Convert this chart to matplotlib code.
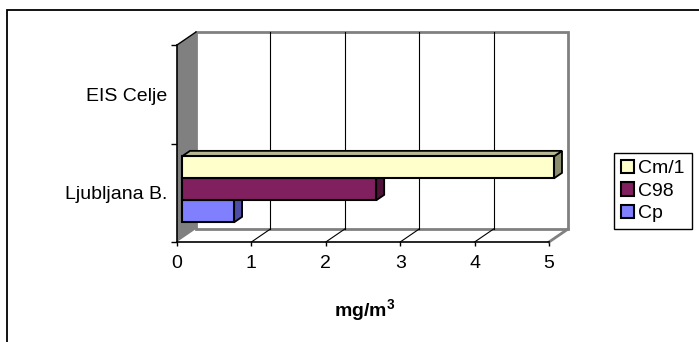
import matplotlib
matplotlib.use("Agg")
import matplotlib.pyplot as plt
from matplotlib.patches import Polygon, Rectangle, Patch
import numpy as np

plt.rcParams['font.family'] = ['Liberation Sans', 'DejaVu Sans']
plt.rcParams['mathtext.fontset'] = 'custom'
plt.rcParams['mathtext.bf'] = 'Liberation Sans:bold'
plt.rcParams['mathtext.rm'] = 'Liberation Sans'

# podatki
postaje = ["Ljubljana B.", "EIS Celje"]
serije = ["Cp", "C98", "Cm/1"]
Cp = [0.70, np.nan]
C98 = [2.61, np.nan]
Cm1 = [5.0, np.nan]
vrednosti = [Cp, C98, Cm1]
x_ticks = [0, 1, 2, 3, 4, 5]

barve = {"Cp": ("#8080FF", "#4D4DA6", "#6666CC"),
         "C98": ("#80205F", "#4F1339", "#661A4C"),
         "Cm/1": ("#FFFFCC", "#8C8C6E", "#B8B894")}

W, H = 699, 342
fig = plt.figure(figsize=(W / 100, H / 100), dpi=100)
# sprednja ravnina grafa v pikslih
x0, x1, y0, y1 = 177, 549, 242, 45
ax = fig.add_axes([x0 / W, 1 - y0 / H, (x1 - x0) / W, (y0 - y1) / H])
ax.set_xlim(0, 5)
ax.set_ylim(0, 2)
for s in ax.spines.values():
    s.set_visible(False)

# globina (zadnja stena) v enotah podatkov
DX = 19 / ((x1 - x0) / 5)
DY = 13 / ((y0 - y1) / 2)
siva = "#808080"

# zadnja stena
ax.add_patch(Rectangle((DX, DY), 5, 2, facecolor="white", edgecolor=siva,
                       lw=2, clip_on=False, zorder=1))
for k in x_ticks[1:-1]:
    ax.plot([k + DX, k + DX], [DY, 2 + DY], color="black", lw=0.8,
            clip_on=False, zorder=2)
    ax.plot([k, k + DX], [0, DY], color="black", lw=0.8, clip_on=False, zorder=2)
ax.plot([5, 5 + DX], [0, DY], color=siva, lw=2, clip_on=False, zorder=2)

# leva stena
ax.add_patch(Polygon([(0, 0), (DX, DY), (DX, 2 + DY), (0, 2)], closed=True,
                     facecolor=siva, edgecolor="none", clip_on=False, zorder=2))
ax.plot([0, DX], [2, 2 + DY], color="black", lw=1, clip_on=False, zorder=3)
ax.plot([0, 0], [0, 2], color="black", lw=1.2, clip_on=False, zorder=3)
ax.plot([0, 5], [0, 0], color="black", lw=1.2, clip_on=False, zorder=3)

# stolpci
f0, f1 = 5 / 19, 13 / 19
h = 0.2233
z = 4
for i, (ime, val) in enumerate(zip(serije, vrednosti)):
    spr, stran, vrh = barve[ime]
    for c, v in enumerate(val):
        if np.isnan(v):
            continue
        yb = c + 0.5 - 1.5 * h + i * h + f0 * DY
        yt = yb + h
        xl = f0 * DX
        xr = xl + v
        ddx, ddy = (f1 - f0) * DX, (f1 - f0) * DY
        ax.add_patch(Polygon([(xr, yb), (xr, yt), (xr + ddx, yt + ddy), (xr + ddx, yb + ddy)],
                             closed=True, facecolor=stran, edgecolor="black", lw=1.3,
                             clip_on=False, zorder=z))
        ax.add_patch(Polygon([(xl, yt), (xr, yt), (xr + ddx, yt + ddy), (xl + ddx, yt + ddy)],
                             closed=True, facecolor=vrh, edgecolor="black", lw=1.3,
                             clip_on=False, zorder=z))
        ax.barh(yb + h / 2, v, height=h, left=xl, color=spr, edgecolor="black",
                lw=1.5, clip_on=False, zorder=z + 1)
        z += 2

# osi
ax.set_xticks(x_ticks)
ax.set_xticklabels([str(t) for t in x_ticks])
ax.tick_params(axis="x", length=3, width=1, pad=6, labelsize=14)
ax.set_yticks([0, 1, 2])
ax.set_yticklabels([])
ax.tick_params(axis="y", which="major", length=4, width=1)
ax.set_yticks([0.5, 1.5], minor=True)
ax.set_yticklabels(postaje, minor=True)
ax.tick_params(axis="y", which="minor", length=0, pad=7, labelsize=14)

fig.text(365 / W, 1 - 310 / H, r"$\mathbf{mg/m^3}$", ha="center", va="center",
         fontsize=14)

# legenda
rocaji = [Patch(facecolor=barve[s][0], edgecolor="black", lw=1.5) for s in serije[::-1]]
leg = fig.legend(rocaji, serije[::-1], loc="upper left",
                 bbox_to_anchor=(614 / W, 1 - 153 / H), fontsize=14,
                 frameon=True, fancybox=False, framealpha=1, edgecolor="black",
                 handlelength=0.7, handleheight=0.7, handletextpad=0.2,
                 labelspacing=0.25, borderpad=0.35, borderaxespad=0)
leg.get_frame().set_linewidth(1)

# okvir grafikona
fig.patches.append(Rectangle((7 / W, -0.1), 1.2, 1 - 10 / H + 0.1, fill=False,
                             edgecolor="black", lw=1.3, transform=fig.transFigure))

fig.savefig("out.png", dpi=100)
